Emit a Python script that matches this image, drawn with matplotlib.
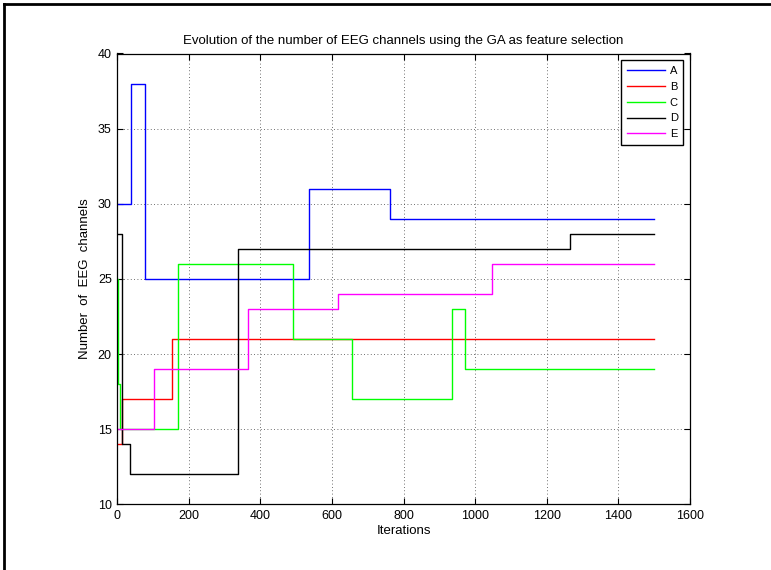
import matplotlib
matplotlib.use("Agg")
import matplotlib.pyplot as plt
from matplotlib.lines import Line2D

plt.rcParams['font.family'] = ['Liberation Sans', 'DejaVu Sans']

# change points (iteration) and number of channels, drawn as steps
labels = ['A', 'B', 'C', 'D', 'E']
colors = ['#0000ff', '#ff0000', '#00ff00', '#000000', '#ff00ff']

A_x = [0, 37, 77, 536, 761, 1500]
A_y = [30, 38, 25, 31, 29, 29]
B_x = [0, 13, 152, 1500]
B_y = [14, 17, 21, 21]
C_x = [0, 3, 8, 170, 491, 656, 935, 972, 1500]
C_y = [25, 18, 15, 26, 21, 17, 23, 19, 19]
D_x = [0, 14, 35, 336, 1265, 1500]
D_y = [28, 14, 12, 27, 28, 28]
E_x = [0, 102, 364, 617, 1048, 1500]
E_y = [15, 19, 23, 24, 26, 26]

series = [(A_x, A_y), (B_x, B_y), (C_x, C_y), (D_x, D_y), (E_x, E_y)]

fig = plt.figure(figsize=(7.71, 5.70), dpi=100)
ax = fig.add_axes([117.3 / 771, 1 - 504.3 / 570, (690 - 117.3) / 771, (504.3 - 53.5) / 570])

for (xs, ys), lab, col in zip(series, labels, colors):
    ax.plot(xs, ys, drawstyle='steps-post', color=col, lw=1.0, label=lab)

ax.set_xlim(0, 1600)
ax.set_ylim(10, 40)
ax.set_xticks(range(0, 1601, 200))
ax.set_yticks(range(10, 41, 5))
ax.tick_params(direction='in', top=True, right=True, length=4, width=0.8,
               labelsize=9, pad=4)
for sp in ax.spines.values():
    sp.set_linewidth(0.9)
ax.grid(True, color='0.25', linestyle=(0, (1, 3)), linewidth=0.6)

ax.set_title("Evolution of the number of EEG channels using the GA as feature selection",
             fontsize=9.5, pad=7)
ax.set_xlabel("Iterations", fontsize=9.5, labelpad=2)
ax.set_ylabel("Number  of  EEG  channels", fontsize=9.5, labelpad=5)

leg = ax.legend(loc='upper right', fontsize=8, frameon=True, fancybox=False,
                edgecolor='black', framealpha=1, handlelength=3.4,
                handletextpad=0.45, labelspacing=0.53, borderpad=0.5,
                borderaxespad=0.6)
leg.get_frame().set_linewidth(1.0)

# figure border (left and top edges visible)
fig.add_artist(Line2D([3.5 / 771, 3.5 / 771], [0, 1 - 3.5 / 570],
                      transform=fig.transFigure, color='black', lw=2))
fig.add_artist(Line2D([3.5 / 771, 1], [1 - 3.5 / 570, 1 - 3.5 / 570],
                      transform=fig.transFigure, color='black', lw=2))

fig.savefig("out.png", dpi=100)
